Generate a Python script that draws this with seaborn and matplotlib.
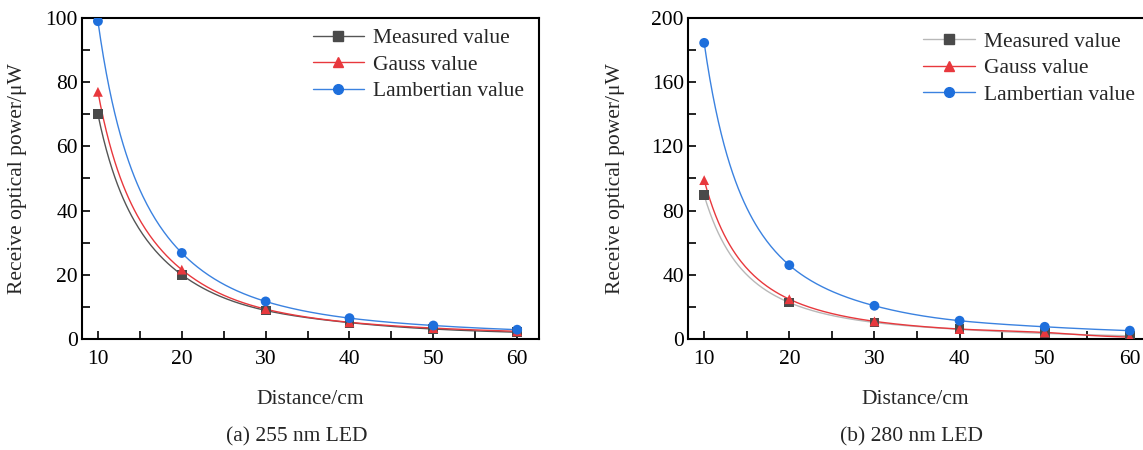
import numpy as np
import pandas as pd
import matplotlib
matplotlib.use("Agg")
import matplotlib.pyplot as plt
from matplotlib.ticker import MultipleLocator
import seaborn as sns

# Distance from the LED (cm)
distance = [10, 20, 30, 40, 50, 60]

# 255 nm LED, received optical power (uW)
measured_255 = [70.0, 20.0, 8.9, 5.1, 3.1, 2.1]
gauss_255 = [77.0, 21.6, 9.3, 5.2, 3.4, 2.4]
lambert_255 = [99.0, 26.8, 11.7, 6.5, 4.2, 2.9]

# 280 nm LED, received optical power (uW)
measured_280 = [89.5, 22.7, 10.3, 6.0, 3.5, 2.0]
gauss_280 = [99.0, 24.8, 11.0, 6.2, 4.1, 1.2]
lambert_280 = [184.5, 46.0, 20.7, 11.4, 7.6, 5.2]

series_names = ["Measured value", "Gauss value", "Lambertian value"]
captions = ["(a) 255 nm LED", "(b) 280 nm LED"]

sns.set_theme(style="white")
plt.rcParams["font.family"] = ["Liberation Serif", "DejaVu Serif"]


def pchip(x, y, xs):
    """Shape-preserving cubic through the points, evaluated in log-log space."""
    lx, ly = np.log(np.asarray(x, float)), np.log(np.asarray(y, float))
    h = np.diff(lx)
    d = np.diff(ly) / h
    m = np.zeros_like(lx)
    for k in range(1, len(lx) - 1):
        if d[k - 1] * d[k] > 0:
            w1 = 2 * h[k] + h[k - 1]
            w2 = h[k] + 2 * h[k - 1]
            m[k] = (w1 + w2) / (w1 / d[k - 1] + w2 / d[k])
    m[0] = d[0]
    m[-1] = d[-1]
    lxs = np.log(xs)
    idx = np.clip(np.searchsorted(lx, lxs) - 1, 0, len(lx) - 2)
    t = (lxs - lx[idx]) / h[idx]
    h00 = 2 * t**3 - 3 * t**2 + 1
    h10 = t**3 - 2 * t**2 + t
    h01 = -2 * t**3 + 3 * t**2
    h11 = t**3 - t**2
    out = h00 * ly[idx] + h10 * h[idx] * m[idx] + h01 * ly[idx + 1] + h11 * h[idx] * m[idx + 1]
    return np.exp(out)


W, H = 1143, 450
fig = plt.figure(figsize=(W / 100, H / 100), dpi=100)
ax_a = fig.add_axes([82 / W, (H - 339) / H, (539 - 82) / W, (339 - 18) / H])
ax_b = fig.add_axes([688 / W, (H - 339) / H, 464 / W, (339 - 18) / H])

panels = [
    (ax_a, [measured_255, gauss_255, lambert_255], 100, 20, 10,
     ["#555555", "#e8383d", "#3b82e0"], 297, (1.0, 1.015), -0.142),
    (ax_b, [measured_280, gauss_280, lambert_280], 200, 40, 20,
     ["#b8b8b8", "#e8383d", "#3b82e0"], 911, (0.995, 1.005), -0.157),
]
markers = ["s", "^", "o"]
marker_colors = ["#4a4a4a", "#e8383d", "#1e6fdc"]
fs = 15.5

for ax, values, ymax, ymaj, ymin, line_colors, cap_x, leg_anchor, ylab_x in panels:
    xs = np.linspace(distance[0], distance[-1], 300)
    for name, vals, lc, mk, mc in zip(series_names, values, line_colors, markers, marker_colors):
        curve = pd.DataFrame({"x": xs, "y": pchip(distance, vals, xs)})
        sns.lineplot(data=curve, x="x", y="y", ax=ax, color=lc, linewidth=1.0, zorder=2)
        pts = pd.DataFrame({"x": distance, "y": vals})
        sns.scatterplot(data=pts, x="x", y="y", ax=ax, marker=mk, color=mc, s=50,
                        edgecolor="none", zorder=3)
        # legend handle for this series
        ax.plot([], [], color=lc, linewidth=1.0, marker=mk, markerfacecolor=mc,
                markeredgecolor=mc, markersize=7, label=name)

    ax.set_xlim(8.1, 62.6)
    ax.set_ylim(0, ymax)
    ax.xaxis.set_major_locator(MultipleLocator(10))
    ax.xaxis.set_minor_locator(MultipleLocator(5))
    ax.yaxis.set_major_locator(MultipleLocator(ymaj))
    ax.yaxis.set_minor_locator(MultipleLocator(ymin))
    ax.tick_params(which="both", direction="in", top=False, right=False,
                   bottom=True, left=True, width=1.2, length=6, colors="black",
                   labelsize=fs)
    ax.tick_params(axis="x", which="both", pad=8)
    ax.tick_params(axis="y", which="both", pad=3)
    for sp in ax.spines.values():
        sp.set_visible(True)
        sp.set_color("black")
        sp.set_linewidth(1.5)
    ax.grid(False)
    ax.set_xlabel("Distance/cm", fontsize=fs)
    ax.xaxis.set_label_coords(0.5 if ax is ax_a else (915 - 688) / 464, -(399 - 339) / 321)
    ax.xaxis.label.set_va("center")
    ax.set_ylabel("Receive optical power/μW", fontsize=fs)
    ax.yaxis.set_label_coords(ylab_x, 0.5)
    ax.yaxis.label.set_va("center")
    ax.legend(loc="upper right", frameon=False, fontsize=fs, handlelength=2.4,
              handletextpad=0.4, labelspacing=0.3, borderaxespad=0.3,
              bbox_to_anchor=leg_anchor)

for cap, (_, _, _, _, _, _, cap_x, _, _) in zip(captions, panels):
    fig.text(cap_x / W, 1 - 437 / H, cap, fontsize=fs, ha="center", va="center")

fig.savefig("out.png", dpi=100)
